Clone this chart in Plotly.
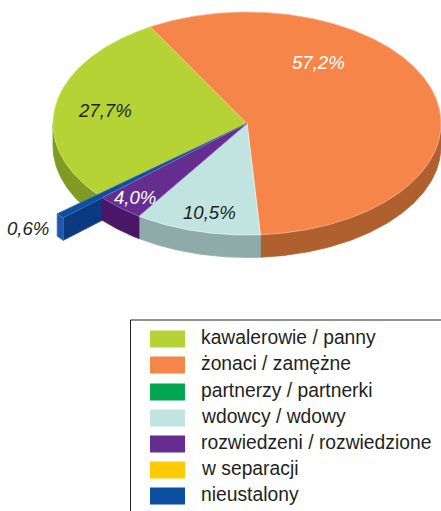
import numpy as np
import plotly.graph_objects as go

categories = ["kawalerowie / panny", "żonaci / zamężne", "partnerzy / partnerki", "wdowcy / wdowy",
              "rozwiedzeni / rozwiedzione", "w separacji", "nieustalony"]
shares = [27.7, 57.2, 0.0, 10.5, 4.0, 0.0, 0.6]
share_labels = ["27,7%", "57,2%", None, "10,5%", "4,0%", None, "0,6%"]
top_colors = ["#B5D334", "#F6854A", "#00A651", "#C1E4E1", "#662D91", "#FFCB05", "#0B4EA2"]
side_colors = ["#7F9B21", "#B0602F", "#007A3C", "#8FABA9", "#4A1668", "#B08C00", "#0B3A82"]
edge_colors = ["#D5E27A", "#F9B48F", "#00A651", "#E6F4F2", "#9270B5", "#FFCB05", "#3F74BE"]
label_colors = ["#231F20", "#FFFFFF", None, "#231F20", "#FFFFFF", None, "#231F20"]
label_xy = [(105, 110), (318, 62), None, (209, 212), (135, 197), None, (28, 228)]

CX, CY, RX, RY, DEPTH = 247.0, 123.5, 194.0, 111.5, 22.5
START = -129.6
BLUE_PULL = 1.27

fig = go.Figure()


def pt(deg, k=1.0, dz=0.0):
    a = np.radians(deg)
    return CX + RX * k * np.sin(a), CY - RY * k * np.cos(a) + dz


def poly(xs, ys, fill, line=None, width=0.8):
    fig.add_trace(go.Scatter(
        x=list(xs) + [xs[0]], y=list(ys) + [ys[0]], mode="lines", fill="toself", fillcolor=fill,
        line=dict(color=line or fill, width=width), hoverinfo="skip", showlegend=False, cliponaxis=True))


def arc(a0, a1, k=1.0, dz=0.0):
    t = np.linspace(a0, a1, max(2, int(abs(a1 - a0)) * 2 + 2))
    return pt(t, k, dz)


# cumulative angles, clockwise from START
ends = START + np.cumsum(shares) * 3.6
begins = np.concatenate([[START], ends[:-1]])
spans = list(zip(begins, ends))


def outer_wall(i):
    a0, a1 = spans[i]
    # the visible outer wall lies where the rim faces the viewer (90..270 from top)
    for shift in (0, 360):
        lo, hi = max(a0 + shift, 90), min(a1 + shift, 270)
        if hi > lo:
            x1, y1 = arc(lo, hi)
            x2, y2 = arc(hi, lo, dz=DEPTH)
            poly(np.r_[x1, x2], np.r_[y1, y2], side_colors[i])


def top_face(i, k=1.0):
    a0, a1 = spans[i]
    x, y = arc(a0, a1, k)
    poly(np.r_[CX, x], np.r_[CY, y], top_colors[i], edge_colors[i])


# green is furthest back, the pulled-out blue sliver runs over it
outer_wall(0)
top_face(0)

a0, a1 = spans[6]
xa, ya = pt(a0, BLUE_PULL)
xb, yb = pt(a1, BLUE_PULL)
poly([CX, xa, xa, CX], [CY, ya, ya + DEPTH, CY + DEPTH], side_colors[6])
poly([xa, xb, xb, xa], [ya, yb, yb + DEPTH, ya + DEPTH], "#1F55AA", "#3F74BE")
top_face(6, BLUE_PULL)

for i in (1, 3, 4):
    outer_wall(i)
for i in (1, 3, 4):
    top_face(i)

for lab, xy, col in zip(share_labels, label_xy, label_colors):
    if lab:
        fig.add_annotation(x=xy[0], y=xy[1], text=lab, showarrow=False,
                           font=dict(family="Liberation Sans", size=18.6, color=col, style="italic"))

# legend panel
legend_y = [339, 365, 392, 418, 444, 470, 496]
fig.add_shape(type="rect", x0=130.5, x1=450, y0=320, y1=520, line=dict(color="#231F20", width=1))
for name, col, y in zip(categories, top_colors, legend_y):
    poly([150, 185, 185, 150], [y - 8.5, y - 8.5, y + 8.5, y + 8.5], col, col, 0)
    fig.add_annotation(x=198.5, y=y - 1.5, text=name, showarrow=False, xanchor="left",
                       font=dict(family="Liberation Sans", size=19.3, color="#231F20"))

fig.update_xaxes(range=[0, 441], visible=False, fixedrange=True)
fig.update_yaxes(range=[511, 0], visible=False, fixedrange=True)
fig.update_layout(width=441, height=511, margin=dict(l=0, r=0, t=0, b=0),
                  paper_bgcolor="white", plot_bgcolor="white", showlegend=False)
fig.write_html("out.html", config=dict(displayModeBar=False),
               post_script="document.body.style.margin='0';document.body.style.overflow='hidden';")
